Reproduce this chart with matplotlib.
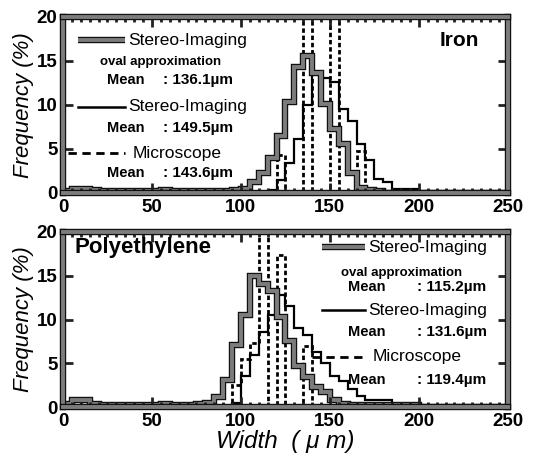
import matplotlib
matplotlib.use('Agg')
import matplotlib.pyplot as plt
import matplotlib.patheffects as pe
from matplotlib.ticker import MultipleLocator
import numpy as np

plt.rcParams['font.family'] = ['Liberation Sans', 'DejaVu Sans']

# 5 um bins from 0 to 250
edges = np.arange(0, 255, 5)

# ---- Iron (values in %, one per bin starting at 0-5) ----
iron_oval = [0.2, 0.4, 0.4, 0.3, 0.2, 0.2, 0.2, 0.2, 0.2, 0.2,
             0.2, 0.3, 0.2, 0.2, 0.2, 0.2, 0.2, 0.2, 0.2, 0.3,
             0.5, 1.3, 2.3, 4.0, 6.5, 10.3, 14.3, 15.6, 13.6, 10.1,
             7.3, 5.6, 2.3, 0.6, 0.3, 0.2, 0, 0, 0, 0,
             0, 0, 0, 0, 0, 0, 0, 0, 0, 0]
iron_stereo = [0, 0, 0, 0, 0, 0, 0, 0, 0, 0,
               0, 0, 0, 0, 0, 0, 0, 0, 0, 0,
               0, 0, 0, 0.3, 1.5, 3.4, 6.1, 10.0, 13.6, 13.1,
               12.6, 9.6, 8.2, 5.6, 3.8, 1.6, 1.2, 0.5, 0.5, 0.5,
               0, 0, 0, 0, 0, 0, 0, 0, 0, 0]
iron_micro = [0, 0, 0, 0, 0, 0, 0, 0, 0, 0,
              0, 0, 0, 0, 0, 0, 0, 0, 0, 0,
              0, 0, 0, 0, 4.3, 0, 0, 52.0, 0, 0,
              38.9, 0, 0, 4.8, 0, 0, 0, 0, 0, 0,
              0, 0, 0, 0, 0, 0, 0, 0, 0, 0]

# ---- Polyethylene ----
poly_oval = [0.3, 0.8, 0.8, 0.3, 0.2, 0.2, 0.2, 0.2, 0.2, 0.2,
             0.2, 0.3, 0.2, 0.2, 0.2, 0.3, 0.5, 1.1, 3.1, 7.1,
             10.5, 15.0, 14.1, 13.2, 10.3, 7.6, 4.7, 3.4, 2.3, 1.7,
             0.8, 0.3, 0.2, 0.2, 0.2, 0.2, 0.2, 0.2, 0.2, 0.2,
             0, 0, 0, 0, 0, 0, 0, 0, 0, 0]
poly_stereo = [0, 0, 0, 0, 0, 0, 0, 0, 0, 0,
               0, 0, 0, 0, 0, 0, 0, 0, 0, 0.5,
               3.5, 6.0, 8.6, 10.5, 12.8, 11.5, 9.0, 8.2, 6.3, 5.0,
               3.6, 3.0, 2.1, 1.3, 0.8, 0.8, 0.8, 0.3, 0.2, 0.2,
               0, 0, 0, 0, 0, 0, 0, 0, 0, 0]
poly_micro = [0, 0, 0, 0, 0, 0, 0, 0, 0, 0,
              0, 0, 0, 0, 0, 0, 0, 0, 0, 2.5,
              5.5, 7.3, 60.3, 0, 17.4, 0, 0, 7.0, 0, 0,
              0, 0, 0, 0, 0, 0, 0, 0, 0, 0,
              0, 0, 0, 0, 0, 0, 0, 0, 0, 0]

iron_means = ['136.1', '149.5', '143.6']
poly_means = ['115.2', '131.6', '119.4']

gray_fx = [pe.Stroke(linewidth=4.6, foreground='#111111'), pe.Normal()]


def draw_panel(ax, oval, stereo, micro):
    ax.stairs(micro, edges, color='black', lw=2.0, linestyle=(0, (1.6, 1.0)))
    ax.stairs(stereo, edges, color='black', lw=1.6)
    ax.stairs(oval, edges, color='#7c7c7c', lw=2.8, path_effects=gray_fx)
    ax.set_xlim(0, 250)
    ax.set_ylim(0, 20)
    ax.xaxis.set_major_locator(MultipleLocator(50))
    ax.xaxis.set_minor_locator(MultipleLocator(5))
    ax.yaxis.set_major_locator(MultipleLocator(5))
    ax.tick_params(which='both', direction='in', top=True, right=True,
                   width=2, color='#222222')
    ax.tick_params(which='major', length=7, labelsize=13.5, pad=4)
    ax.tick_params(which='minor', length=3.5)
    for lab in ax.get_xticklabels() + ax.get_yticklabels():
        lab.set_fontweight('bold')
    for sp in ax.spines.values():
        sp.set_linewidth(2.8)
        sp.set_color('#7c7c7c')
        sp.set_path_effects(gray_fx)
    ax.set_ylabel('Frequency (%)', fontsize=16, style='italic', labelpad=2)


def draw_legend(ax, x0, x1, xt, ys, means, xm, xv):
    t = ax.transAxes
    ax.plot([x0, x1], [ys[0], ys[0]], transform=t, color='#7c7c7c', lw=2.8,
            path_effects=gray_fx, clip_on=False, solid_capstyle='butt')
    ax.text(xt, ys[0], 'Stereo-Imaging', transform=t, fontsize=12.5, va='center')
    ax.text(xm - 0.016, ys[1], 'oval approximation', transform=t, fontsize=9.5,
            fontweight='bold', va='center')
    ax.text(xm, ys[2], 'Mean', transform=t, fontsize=10.5, fontweight='bold', va='center')
    ax.text(xv, ys[2], ': ' + means[0] + 'µm', transform=t, fontsize=11,
            fontweight='bold', va='center')
    ax.plot([x0, x1], [ys[3], ys[3]], transform=t, color='black', lw=1.8,
            clip_on=False)
    ax.text(xt, ys[3], 'Stereo-Imaging', transform=t, fontsize=12.5, va='center')
    ax.text(xm, ys[4], 'Mean', transform=t, fontsize=10.5, fontweight='bold', va='center')
    ax.text(xv, ys[4], ': ' + means[1] + 'µm', transform=t, fontsize=11,
            fontweight='bold', va='center')
    ax.plot([x0 - 0.022, x1], [ys[5], ys[5]], transform=t, color='black', lw=2.0,
            linestyle=(0, (3, 2)), clip_on=False)
    ax.text(xt + 0.01, ys[5], 'Microscope', transform=t, fontsize=12.5, va='center')
    ax.text(xm, ys[6], 'Mean', transform=t, fontsize=10.5, fontweight='bold', va='center')
    ax.text(xv, ys[6], ': ' + means[2] + 'µm', transform=t, fontsize=11,
            fontweight='bold', va='center')


fig = plt.figure(figsize=(5.36, 4.54), dpi=100)
ax1 = fig.add_axes([0.1175, 0.5749, 0.830, 0.3877])
ax2 = fig.add_axes([0.1175, 0.1035, 0.830, 0.3855])

draw_panel(ax1, iron_oval, iron_stereo, iron_micro)
draw_panel(ax2, poly_oval, poly_stereo, poly_micro)

draw_legend(ax1, 0.034, 0.139, 0.146,
            [0.869, 0.744, 0.642, 0.489, 0.369, 0.227, 0.114],
            iron_means, 0.099, 0.225)
ax1.text(0.935, 0.869, 'Iron', transform=ax1.transAxes, fontsize=15,
         fontweight='bold', ha='right', va='center')

draw_legend(ax2, 0.582, 0.679, 0.685,
            [0.914, 0.765, 0.686, 0.554, 0.429, 0.286, 0.154],
            poly_means, 0.640, 0.795)
ax2.text(0.027, 0.909, 'Polyethylene', transform=ax2.transAxes, fontsize=16,
         fontweight='bold', ha='left', va='center')

ax2.set_xlabel('Width  ( μ m)', fontsize=17.5, style='italic', labelpad=0)

fig.savefig('out.png', dpi=100)
